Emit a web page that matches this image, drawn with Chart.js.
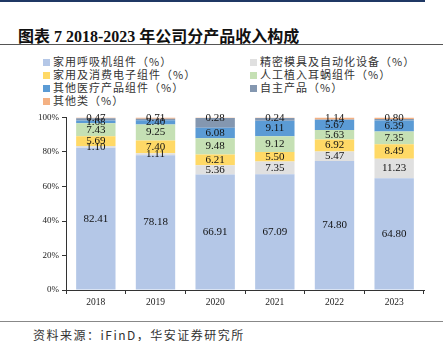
<!DOCTYPE html>
<html>
<head>
<meta charset="utf-8">
<script src="https://cdn.jsdelivr.net/npm/chart.js@4.4.1/dist/chart.umd.min.js"></script>
<style>
  html, body { margin: 0; padding: 0; background: #fff; }
  body { width: 443px; height: 341px; position: relative; overflow: hidden; font-family: "Liberation Serif", "Noto Sans CJK SC", serif; }
  #topLine { position: absolute; left: 0; top: 0; width: 425px; height: 2px; background: #1f3864; }
  #title { position: absolute; left: 18px; top: 23px; font-size: 16px; font-weight: bold; color: #111; white-space: nowrap; }
  #titleLine { position: absolute; left: 0; top: 44px; width: 443px; height: 1px; background: #555; }
  #legend { position: absolute; left: 43px; top: 55px; width: 400px; }
  .item { position: absolute; white-space: nowrap; font-family: "Noto Sans CJK SC", sans-serif; font-size: 11px; letter-spacing: 1px; color: #333; line-height: 13px; }
  .item span.box { display: inline-block; width: 7px; height: 7px; margin-right: 3px; vertical-align: 0px; }
  #wrap { position: absolute; left: 0; top: 105px; width: 443px; height: 210px; }
  #bottomLine { position: absolute; left: 0; top: 321px; width: 443px; height: 1px; background: #888; }
  #source { position: absolute; left: 33px; top: 328px; font-family: "Noto Sans CJK SC", sans-serif; font-size: 12px; letter-spacing: 1.5px; color: #333; white-space: nowrap; line-height: 14px; }
</style>
</head>
<body>
<div id="topLine"></div>
<div id="title">图表 7 2018-2023 年公司分产品收入构成</div>
<div id="titleLine"></div>
<div id="legend"></div>
<div id="wrap"><canvas id="chart" width="443" height="210"></canvas></div>
<div id="bottomLine"></div>
<div id="source">资料来源：iFinD，华安证券研究所</div>
<script>
  let years = ["2018", "2019", "2020", "2021", "2022", "2023"];
  let seriesNames = [
    "家用呼吸机组件（%）",
    "精密模具及自动化设备（%）",
    "家用及消费电子组件（%）",
    "人工植入耳蜗组件（%）",
    "其他医疗产品组件（%）",
    "自主产品（%）",
    "其他类（%）"
  ];
  let ventilator = [82.41, 78.18, 66.91, 67.09, 74.80, 64.80];
  let molds = [1.10, 1.11, 5.36, 7.35, 5.47, 11.23];
  let consumer = [5.69, 7.40, 6.21, 5.50, 6.92, 8.49];
  let cochlear = [7.43, 9.25, 9.48, 9.12, 5.63, 7.35];
  let otherMedical = [1.68, 2.40, 6.08, 9.11, 5.67, 6.39];
  let ownProducts = [1.22, 0.95, 5.68, 1.59, 0.37, 0.94];
  let others = [0.47, 0.71, 0.28, 0.24, 1.14, 0.80];
  let yTicks = [0, 20, 40, 60, 80, 100];

  let colors = ["#b4c7e7", "#e0e0e0", "#ffd966", "#c5e0b4", "#5b9bd5", "#8497b0", "#f4b183"];
  let allData = [ventilator, molds, consumer, cochlear, otherMedical, ownProducts, others];
  let labelShown = [true, true, true, true, true, false, true];

  // legend, two columns
  let legendDiv = document.getElementById("legend");
  seriesNames.forEach((name, i) => {
    let el = document.createElement("div");
    el.className = "item";
    el.style.left = (i % 2 === 0 ? 0 : 207) + "px";
    el.style.top = (Math.floor(i / 2) * 13) + "px";
    el.innerHTML = '<span class="box" style="background:' + colors[i] + '"></span>' + name;
    legendDiv.appendChild(el);
  });

  const valueLabels = {
    id: "valueLabels",
    afterDatasetsDraw(chart) {
      const ctx = chart.ctx;
      ctx.save();
      ctx.font = "11px 'Liberation Serif'";
      ctx.fillStyle = "#111";
      ctx.textAlign = "center";
      ctx.textBaseline = "middle";
      chart.data.datasets.forEach((ds, i) => {
        if (!labelShown[i]) return;
        chart.getDatasetMeta(i).data.forEach((bar, j) => {
          let y = (bar.y + bar.base) / 2;
          ctx.fillText(ds.data[j].toFixed(2), bar.x, y);
        });
      });
      ctx.restore();
    }
  };

  new Chart(document.getElementById("chart"), {
    type: "bar",
    data: {
      labels: years,
      datasets: allData.map((d, i) => ({
        label: seriesNames[i],
        data: d,
        backgroundColor: colors[i],
        borderWidth: 0,
        barPercentage: 0.66,
        categoryPercentage: 1
      }))
    },
    options: {
      responsive: false,
      animation: false,
      devicePixelRatio: 1,
      layout: { padding: { left: 0, right: 19, top: 12.5, bottom: 0 } },
      plugins: { legend: { display: false }, tooltip: { enabled: false } },
      scales: {
        x: {
          stacked: true,
          grid: { drawOnChartArea: false, drawTicks: true, tickLength: 4, color: "#333" },
          border: { color: "#333", width: 1 },
          ticks: { color: "#222", font: { family: "Liberation Serif", size: 9.5 }, padding: 3 },
          afterFit(scale) { scale.height = 25; }
        },
        y: {
          stacked: true,
          min: 0,
          max: 100,
          afterBuildTicks(scale) { scale.ticks = yTicks.map(v => ({ value: v })); },
          grid: { drawOnChartArea: false, drawTicks: true, tickLength: 4, color: "#333" },
          border: { color: "#333", width: 1 },
          ticks: {
            color: "#222",
            font: { family: "Liberation Serif", size: 9 },
            padding: 3,
            callback: v => v + "%"
          },
          afterFit(scale) { scale.width = 66; }
        }
      }
    },
    plugins: [valueLabels]
  });
</script>
</body>
</html>
